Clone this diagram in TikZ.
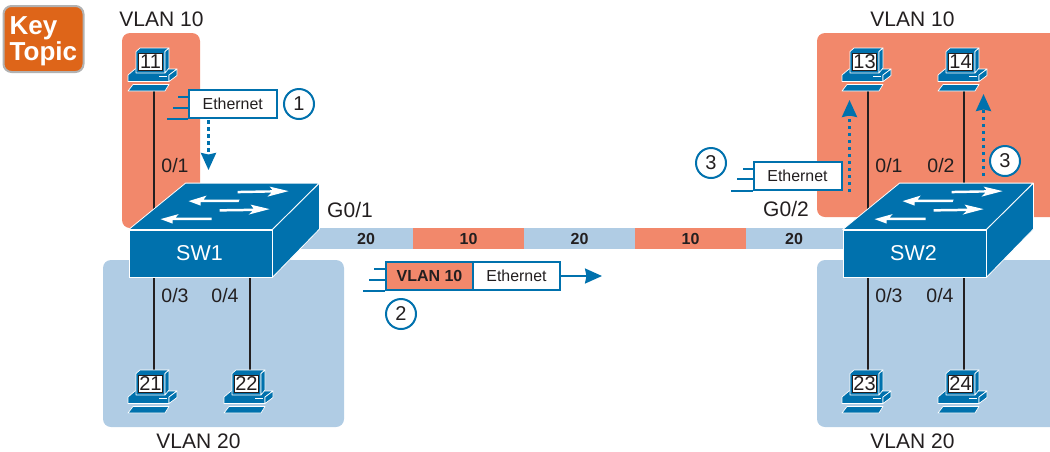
\documentclass[tikz,border=0pt]{standalone}
\usepackage{fontspec}
\setmainfont{Liberation Sans}
\usetikzlibrary{arrows.meta,calc}
\definecolor{redarea}{HTML}{F2886B}
\definecolor{bluearea}{HTML}{B0CCE4}
\definecolor{ciscoblue}{HTML}{0071AD}
\definecolor{ink}{HTML}{231F20}
\definecolor{keyorange}{HTML}{DE6519}
\pgfdeclarelayer{bg}\pgfdeclarelayer{wires}
\pgfsetlayers{bg,wires,main}
\newcommand{\fsz}[1]{\fontsize{#1}{#1}\selectfont}
\tikzset{
  lbl/.style={inner sep=0pt,text=ink,font=\fsz{21}},
  portlbl/.style={inner sep=0pt,text=ink,font=\fsz{19.5}},
  bandlbl/.style={inner sep=0pt,text=ink,font=\bfseries\fsz{16}},
  wire/.style={draw=ink,line width=2.5pt},
  swfront/.style={draw=white,line width=0.8pt,fill=ciscoblue,text=white,font=\fsz{21.5},minimum width=143pt,minimum height=47pt,inner sep=0pt},
  swface/.style={draw=white,line width=0.8pt,fill=ciscoblue,line join=round},
  swarrow/.style={fill=white,draw=none},
  frame/.style={draw=ciscoblue,line width=2pt,fill=white,text=ink,font=\fsz{15.9},minimum height=28pt,inner sep=0pt},
  speed/.style={draw=ciscoblue,line width=2pt},
  badge/.style={circle,draw=ciscoblue,line width=2pt,fill=white,text=ink,font=\fsz{20},minimum size=30pt,inner sep=0pt},
  flow/.style={draw=ciscoblue,line width=2.8pt,dash pattern=on 3.5pt off 3.5pt,-{Stealth[inset=1.5pt,length=17pt,width=15pt]}},
  pcbody/.style={fill=ciscoblue,draw=white,line width=0.7pt,line join=round},
  pcscreen/.style={fill=white,draw=ink,line width=0.5pt,text=ink,font=\fsz{20},minimum width=24pt,minimum height=17pt,inner sep=0pt},
}
% PC icon: #1 name, #2 x of its cable, #3 y of its top, #4 number
\newcommand{\pcicon}[4]{%
  \begin{scope}[shift={(#2,#3)}]
    \path[pcbody] (-26,43) -- (-21,36.5) -- (15,36.5) -- (11,43) -- cycle;
    \path[pcbody] (-26,27) -- (-19,21) -- (23,21) -- (15,27) -- (15,33.5) -- (-26,33.5) -- cycle;
    \path[pcbody] (15,27) -- (23,21) -- (23,27.5) -- (15,33.5) -- cycle;
    \draw[white,line width=1pt] (5,28.5) -- (13,28.5);
    \path[pcbody] (-18,3.5) -- (-14,0) -- (15,0) -- (11,3.5) -- (11,25) -- (-18,25) -- cycle;
    \path[pcbody] (11,3.5) -- (15,0) -- (15,20) -- (11,25) -- cycle;
    \node[pcscreen] (#1) at (-3.5,14) {#4};
    \coordinate (#1-top) at (0,0);
    \coordinate (#1-foot) at (0,43);
  \end{scope}}
% switch: #1 name, #2 centre x of front, #3 centre y of front, #4 label
\newcommand{\swicon}[4]{%
  \node[swfront] (#1) at (#2,#3) {\hspace*{-2pt}#4};
  \path[swface] (#1.north west) -- ++(57,-46.5) -- ++(133.5,0) -- (#1.north east) -- cycle;
  \path[swface] (#1.north east) -- ++(47,-46.5) -- ++(0,46) -- (#1.south east) -- cycle;
  \begin{scope}[shift={(#1.north west)}]
    \path[swarrow] (109,-38.8) -- (144,-39.4) -- (141,-43) -- (160,-38.5) -- (139,-33) -- (143,-37) -- (109,-36.3) -- cycle;
    \path[swarrow] (111,-30) -- (75,-30) -- (78,-34) -- (60,-28.5) -- (72,-24) -- (72,-27.5) -- (110,-27.5) -- cycle;
    \path[swarrow] (91,-20.5) -- (125,-21) -- (122,-25) -- (141,-20.5) -- (120,-15) -- (124,-18.5) -- (91,-18) -- cycle;
    \path[swarrow] (83,-12) -- (47,-12) -- (50,-15.5) -- (32,-10.5) -- (44,-6) -- (44,-9.5) -- (83,-9.5) -- cycle;
  \end{scope}}
\begin{document}
\begin{tikzpicture}[x=1pt,y=-1pt]
\useasboundingbox (0,0) rectangle (1050,451);
% key topic
\node[draw=black!30,line width=2pt,fill=keyorange,rounded corners=8pt,minimum width=80pt,minimum height=66pt,inner sep=0pt] (keybox) at (43.5,39) {};
\node[inner sep=0pt,text=white,font=\bfseries\fsz{26},align=left,anchor=west] (keytext) at (9.5,41) {\fontsize{26}{22}\selectfont Key\\Topic};
% areas
\begin{pgfonlayer}{bg}
  \fill[redarea,rounded corners=8pt] (122,33) rectangle (200,228);
  \fill[bluearea,rounded corners=8pt] (103,260) rectangle (344,427);
  \fill[redarea] [rounded corners=8pt] (1050,33) -- (817,33) -- (817,217) [sharp corners] -- (1050,217) -- cycle;
  \fill[bluearea] [rounded corners=8pt] (1050,260) -- (817,260) -- (817,427) [sharp corners] -- (1050,427) -- cycle;
\end{pgfonlayer}
% switches
\swicon{sw1}{200.5}{253.5}{SW1}
\swicon{sw2}{914.5}{253.5}{SW2}
% PCs
\pcicon{pc11}{154}{48}{11}
\pcicon{pc13}{868}{48}{13}
\pcicon{pc14}{964}{48}{14}
\pcicon{pc21}{154}{370}{21}
\pcicon{pc22}{250}{370}{22}
\pcicon{pc23}{868}{370}{23}
\pcicon{pc24}{964}{370}{24}
% cables
\begin{pgfonlayer}{wires}
  \draw[wire] (pc11-foot) -- (pc11-foot |- sw1.north);
  \draw[wire] (pc13-foot) -- (pc13-foot |- sw2.north);
  \draw[wire] (pc14-foot) -- (pc14-foot |- sw2.north);
  \draw[wire] (pc21-top) -- (pc21-top |- sw1.south);
  \draw[wire] (pc22-top) -- (pc22-top |- sw1.south);
  \draw[wire] (pc23-top) -- (pc23-top |- sw2.south);
  \draw[wire] (pc24-top) -- (pc24-top |- sw2.south);
  % trunk
  \fill[bluearea] (272,228) rectangle (413,249);
  \fill[redarea] (413,228) rectangle (524,249);
  \fill[bluearea] (524,228) rectangle (635,249);
  \fill[redarea] (635,228) rectangle (746,249);
  \fill[bluearea] (746,228) rectangle (843,249);
\end{pgfonlayer}
\node[bandlbl] (t1) at (366,239) {20};
\node[bandlbl] (t2) at (468.5,239) {10};
\node[bandlbl] (t3) at (579.5,239) {20};
\node[bandlbl] (t4) at (690.5,239) {10};
\node[bandlbl] (t5) at (794,239) {20};
% labels
\node[lbl] (v1) at (161.5,19) {VLAN 10};
\node[lbl] (v2) at (912.5,19) {VLAN 10};
\node[lbl] (v3) at (198.5,441) {VLAN 20};
\node[lbl] (v4) at (912.5,441) {VLAN 20};
\node[lbl] (g1) at (350,210) {G0/1};
\node[lbl] (g2) at (786,209) {G0/2};
\node[portlbl] (p1) at (175,166) {0/1};
\node[portlbl] (p2) at (175,296) {0/3};
\node[portlbl] (p3) at (225,296) {0/4};
\node[portlbl] (p4) at (889,166) {0/1};
\node[portlbl] (p5) at (941,166) {0/2};
\node[portlbl] (p6) at (889,296) {0/3};
\node[portlbl] (p7) at (940,296) {0/4};
% frame 1
\node[frame,minimum width=88pt] (f1) at (232.75,104) {Ethernet};
\draw[speed] (f1.north west |- 0,97) -- ++(-10,0);
\draw[speed] (f1.north west |- 0,108) -- ++(-15,0);
\draw[speed] (f1.south west) -- ++(-21,0);
\node[badge] (b1) at (299,104) {1};
\coordinate (a1s) at (208.5,120);
\coordinate (a1e) at (208.5,170);
\draw[flow] (a1s) -- (a1e);
% frame 2
\node[frame,minimum width=87pt,fill=redarea,font=\bfseries\fsz{16}] (f2a) at (429.5,276) {VLAN 10};
\node[frame,minimum width=87pt] (f2b) at (516.5,276) {Ethernet};
\coordinate (a2e) at (602,276);
\draw[draw=ciscoblue,line width=2pt,-{Stealth[inset=1.5pt,length=17pt,width=15pt]}] (f2b.east) -- (a2e);
\draw[speed] (f2a.north west |- 0,269) -- ++(-11,0);
\draw[speed] (f2a.north west |- 0,280) -- ++(-16,0);
\draw[speed] (f2a.south west) -- ++(-22,0);
\node[badge] (b2) at (401,314) {2};
% frame 3
\node[frame,minimum width=88pt] (f3) at (797.5,176) {Ethernet};
\draw[speed] (f3.north west |- 0,169) -- ++(-10,0);
\draw[speed] (f3.north west |- 0,179) -- ++(-16,0);
\draw[speed] (f3.south west) -- ++(-22,0);
\node[badge] (b3) at (711,163) {3};
\coordinate (a3s) at (849.5,192);
\coordinate (a3e) at (849.5,100);
\draw[flow] (a3s) -- (a3e);
\coordinate (a4s) at (983.5,176);
\coordinate (a4e) at (983.5,94);
\draw[flow] (a4s) -- (a4e);
\node[badge] (b4) at (1005,161) {3};
\end{tikzpicture}
\end{document}
